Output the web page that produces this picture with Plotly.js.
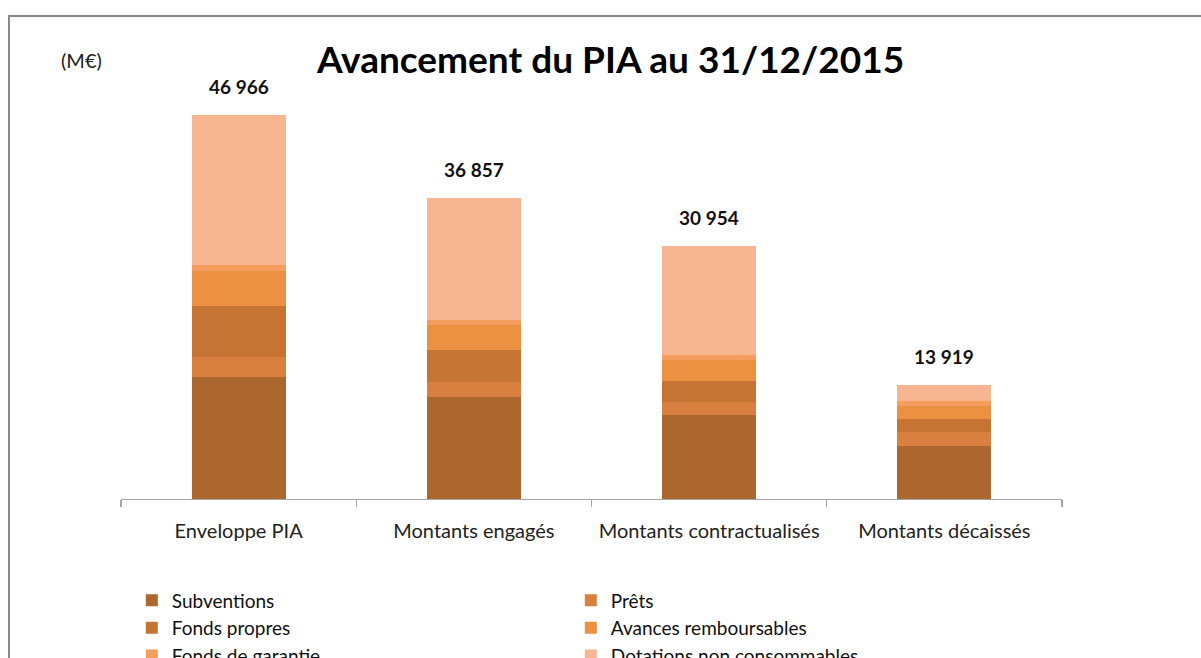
<!DOCTYPE html>
<html>
<head>
<meta charset="utf-8">
<script src="https://cdn.plot.ly/plotly-3.0.1.min.js"></script>
<style>
  html, body { margin: 0; padding: 0; background: #ffffff; overflow: hidden; width: 1201px; height: 658px; }
  #frame { position: absolute; left: 8px; top: 15px; width: 1260px; height: 720px;
           border-left: 2px solid #8a8a8a; border-top: 2px solid #8a8a8a; background: #ffffff; }
  #chart { position: absolute; left: 0; top: 0; width: 1193px; height: 700px; }
</style>
</head>
<body>
<div id="frame"><div id="chart"></div></div>
<script>
// Categories (x axis)
const categories = ["Enveloppe PIA", "Montants engagés", "Montants contractualisés", "Montants décaissés"];

// Series values (M€)
const subventions = [14920, 12520, 10280, 6530];
const prets = [2390, 1750, 1620, 1620];
const fondsPropres = [6310, 3910, 2560, 1640];
const avancesRemboursables = [4310, 3140, 2530, 1590];
const fondsGarantie = [700, 570, 650, 610];
const dotationsNonConsommables = [18336, 14967, 13314, 1929];

// Series names
const seriesNames = ["Subventions", "Prêts", "Fonds propres", "Avances remboursables", "Fonds de garantie", "Dotations non consommables"];
const seriesValues = [subventions, prets, fondsPropres, avancesRemboursables, fondsGarantie, dotationsNonConsommables];
const seriesColors = ["#ab672e", "#d98040", "#c57434", "#ec9042", "#f49d5e", "#f8b592"];

const FONT = "Lato, 'Open Sans', sans-serif";

const traces = seriesNames.map((name, i) => ({
  type: "bar",
  name: name,
  x: categories,
  y: seriesValues[i],
  marker: { color: seriesColors[i], line: { width: 0 } },
  hoverinfo: "x+y+name"
}));

function fmt(n) {
  return String(Math.round(n)).replace(/\B(?=(\d{3})+(?!\d))/g, " ");
}

const totals = categories.map((c, j) => seriesValues.reduce((s, arr) => s + arr[j], 0));

const annotations = categories.map((c, j) => ({
  x: c, y: totals[j], xref: "x", yref: "y",
  text: "<b>" + fmt(totals[j]) + "</b>",
  showarrow: false, yanchor: "bottom", yshift: 15,
  font: { family: FONT, size: 19, color: "#111111" }
}));

annotations.push({
  text: "(M€)", xref: "paper", yref: "paper", x: -0.0418, y: 1.0402,
  xanchor: "center", yanchor: "middle", showarrow: false,
  font: { family: FONT, size: 20, color: "#222222" }
});

const layout = {
  width: 1193, height: 700,
  margin: { l: 111, r: 141, t: 60, b: 217.5, autoexpand: false },
  paper_bgcolor: "#ffffff", plot_bgcolor: "#ffffff",
  barmode: "stack", bargap: 0.6,
  title: {
    text: "<b>Avancement du PIA au 31/12/2015</b>",
    xref: "container", yref: "container", x: 0.5034, y: 0.9386,
    xanchor: "center", yanchor: "middle",
    font: { family: FONT, size: 37, color: "#000000" }
  },
  xaxis: {
    type: "category",
    showline: true, linecolor: "#a6a6a6", linewidth: 1.3,
    ticks: "outside", tickson: "boundaries", ticklen: 7, tickcolor: "#a6a6a6", tickwidth: 1.3,
    ticklabelstandoff: 14,
    showgrid: false, zeroline: false,
    tickfont: { family: FONT, size: 20, color: "#222222" }
  },
  yaxis: {
    range: [0, 51606], visible: false, showgrid: false, zeroline: false
  },
  showlegend: true,
  legend: {
    orientation: "h", traceorder: "normal",
    x: 0.0115, xanchor: "left", y: -0.195, yanchor: "top",
    entrywidth: 394, entrywidthmode: "pixels",
    font: { family: FONT, size: 19, color: "#111111" },
    bgcolor: "rgba(0,0,0,0)"
  },
  annotations: annotations
};

Plotly.newPlot("chart", traces, layout, { displayModeBar: false, staticPlot: true });
</script>
</body>
</html>
